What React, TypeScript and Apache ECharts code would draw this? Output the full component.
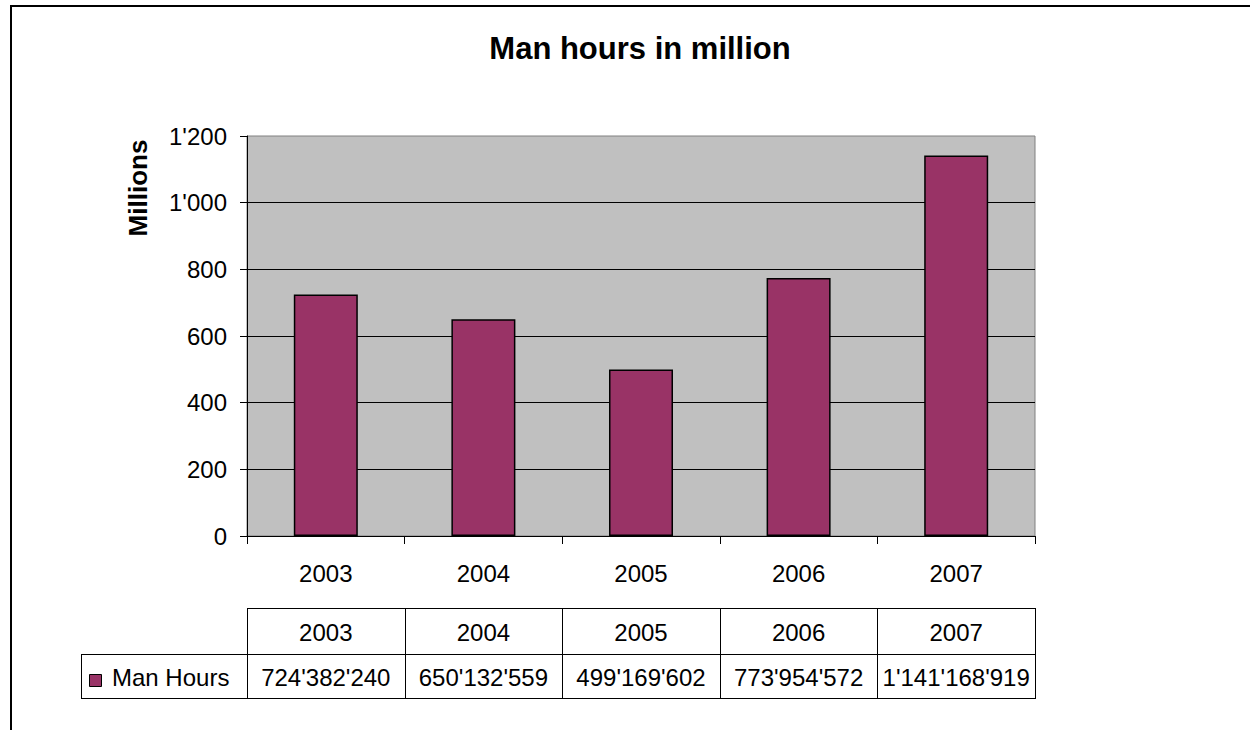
import React, { useEffect, useRef } from "react";
import * as echarts from "echarts";

const TITLE = "Man hours in million";
const Y_NAME = "Millions";
const SERIES_NAME = "Man Hours";
const years = ["2003", "2004", "2005", "2006", "2007"];
const manHours = [724382240, 650132559, 499169602, 773954572, 1141168919];
const yTicks = [0, 200, 400, 600, 800, 1000, 1200];

const FONT = "'Liberation Sans', Arial, sans-serif";
const BAR = "#993366";

const fmt = (n: number) => String(n).replace(/\B(?=(\d{3})+(?!\d))/g, "'");

export default function App() {
  const ref = useRef<HTMLDivElement>(null);
  useEffect(() => {
    document.body.style.margin = "0";
    const chart = echarts.init(ref.current!, null, { renderer: "svg" });

    const gl = 247, gt = 136, gw = 788, gh = 400;
    const colW = gw / years.length;
    const tTop = 608, tMid = 654, tBot = 698, legL = 81;

    const graphics: any[] = [];
    // outer frame
    graphics.push({ type: "line", shape: { x1: 10, y1: 6, x2: 1250, y2: 6 }, style: { stroke: "#000", lineWidth: 2 } });
    graphics.push({ type: "line", shape: { x1: 11, y1: 6, x2: 11, y2: 730 }, style: { stroke: "#000", lineWidth: 2 } });
    // title
    graphics.push({
      type: "text", x: 640, y: 48,
      style: { text: TITLE, font: `bold 31px ${FONT}`, fill: "#000", textAlign: "center", textVerticalAlign: "middle" },
    });
    // y name
    graphics.push({
      type: "text", x: 138, y: 188, rotation: Math.PI / 2,
      style: { text: Y_NAME, font: `bold 26px ${FONT}`, fill: "#000", textAlign: "center", textVerticalAlign: "middle" },
    });
    // table lines
    const ln = (x1: number, y1: number, x2: number, y2: number) =>
      graphics.push({ type: "line", shape: { x1, y1, x2, y2 }, style: { stroke: "#000", lineWidth: 1 } });
    ln(gl, tTop + 0.5, gl + gw + 0.5, tTop + 0.5);
    ln(legL, tMid + 0.5, gl + gw + 0.5, tMid + 0.5);
    ln(legL, tBot + 0.5, gl + gw + 0.5, tBot + 0.5);
    ln(legL + 0.5, tMid, legL + 0.5, tBot + 1);
    for (let i = 0; i <= years.length; i++) {
      const x = Math.round(gl + i * colW) + 0.5;
      ln(x, tTop, x, tBot + 1);
    }
    years.forEach((y, i) => {
      const cx = gl + (i + 0.5) * colW;
      graphics.push({
        type: "text", x: cx, y: (tTop + tMid) / 2 + 1,
        style: { text: y, font: `24px ${FONT}`, fill: "#000", textAlign: "center", textVerticalAlign: "middle" },
      });
      graphics.push({
        type: "text", x: cx, y: (tMid + tBot) / 2 + 1,
        style: { text: fmt(manHours[i]), font: `24px ${FONT}`, fill: "#000", textAlign: "center", textVerticalAlign: "middle" },
      });
    });
    // legend key
    graphics.push({
      type: "rect", shape: { x: 89.5, y: 674.5, width: 12, height: 12 },
      style: { fill: BAR, stroke: "#000", lineWidth: 1 },
    });
    graphics.push({
      type: "text", x: 112, y: (tMid + tBot) / 2 + 1,
      style: { text: SERIES_NAME, font: `24px ${FONT}`, fill: "#000", textAlign: "left", textVerticalAlign: "middle" },
    });

    chart.setOption({
      animation: false,
      backgroundColor: "#fff",
      textStyle: { fontFamily: FONT },
      grid: {
        left: gl, top: gt, width: gw, height: gh,
        show: true, backgroundColor: "#C0C0C0", borderColor: "#808080", borderWidth: 1,
      },
      xAxis: {
        type: "category",
        data: years,
        axisLine: { show: true, lineStyle: { color: "#000", width: 1 } },
        axisTick: { show: true, length: 8, alignWithLabel: false, lineStyle: { color: "#000" } },
        axisLabel: { fontSize: 24, color: "#000", margin: 25, fontFamily: FONT },
      },
      yAxis: {
        type: "value",
        min: yTicks[0],
        max: yTicks[yTicks.length - 1],
        interval: 200,
        axisLine: { show: true, lineStyle: { color: "#000", width: 1 } },
        axisTick: { show: true, length: 7, lineStyle: { color: "#000" } },
        axisLabel: { fontSize: 24, color: "#000", margin: 20, fontFamily: FONT, formatter: (v: number) => fmt(v) },
        splitLine: { show: true, showMaxLine: false, lineStyle: { color: "#000", width: 1 } },
      },
      series: [
        {
          name: SERIES_NAME,
          type: "bar",
          data: manHours.map((v) => v / 1e6),
          barWidth: 64,
          itemStyle: { color: BAR, borderColor: "#000", borderWidth: 1.5 },
        },
      ],
      graphic: graphics,
    });
    return () => chart.dispose();
  }, []);
  return <div ref={ref} style={{ width: 1250, height: 730 }} />;
}
